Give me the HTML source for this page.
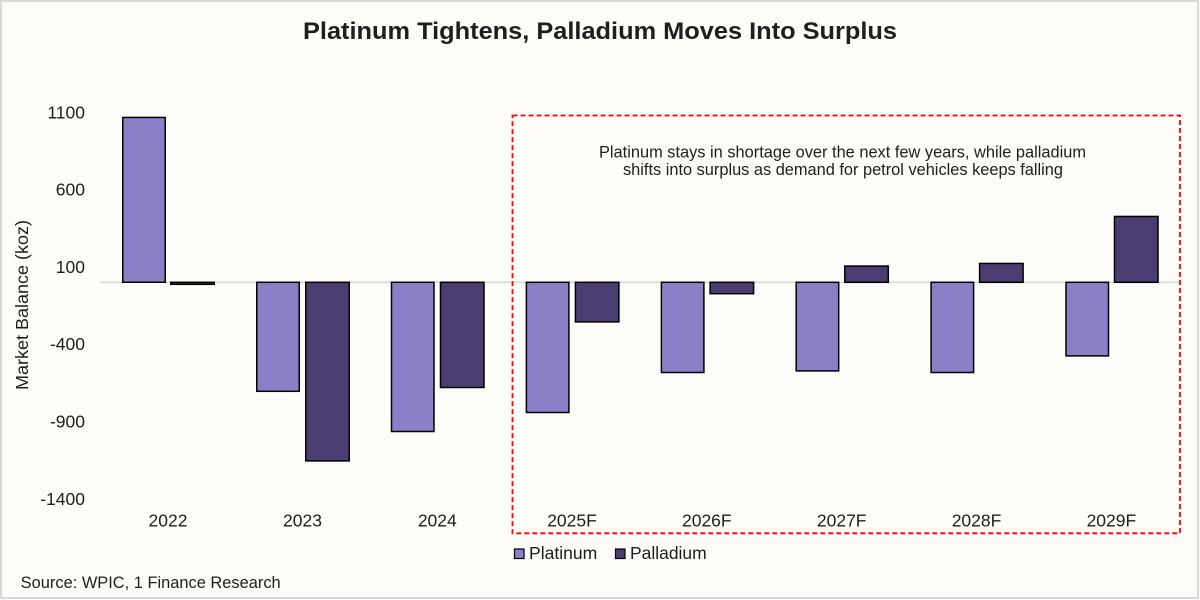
<!DOCTYPE html>
<html>
<head>
<meta charset="utf-8">
<style>
  html, body { margin: 0; padding: 0; background: #fdfcf8; }
  svg { display: block; }
  text { font-family: "Liberation Sans", Arial, sans-serif; fill: #1e1e1e; }
</style>
</head>
<body>
<svg width="1200" height="600" viewBox="0 0 1200 600" xmlns="http://www.w3.org/2000/svg">
  <rect x="0" y="0" width="1200" height="600" fill="#fdfcf8"/>
  <rect x="1" y="1" width="1197" height="597" fill="none" stroke="#d9d9d9" stroke-width="2"/>

  <!-- Title -->
  <text x="600" y="39" text-anchor="middle" font-size="24" font-weight="bold" textLength="594" lengthAdjust="spacingAndGlyphs">Platinum Tightens, Palladium Moves Into Surplus</text>

  <!-- Y axis labels -->
  <g font-size="17.5" text-anchor="end">
    <text x="85" y="118.3">1100</text>
    <text x="85" y="195.6">600</text>
    <text x="85" y="272.9">100</text>
    <text x="85" y="350.2">-400</text>
    <text x="85" y="427.5">-900</text>
    <text x="85" y="504.8">-1400</text>
  </g>

  <!-- Y axis title -->
  <text transform="translate(28,305) rotate(-90)" text-anchor="middle" font-size="17.5" textLength="170" lengthAdjust="spacingAndGlyphs">Market Balance (koz)</text>

  <!-- Zero line -->
  <line x1="100" y1="282.3" x2="1179" y2="282.3" stroke="#d9d9d9" stroke-width="1.6"/>

  <!-- Bars -->
  <g stroke="#000" stroke-width="1.5">
    <!-- 2022 -->
    <rect x="122.75" y="117.45" width="42.5" height="164.8" fill="#8b7fc7"/>
    <rect x="170.75" y="282.3" width="43.5" height="2" fill="#4b3d72"/>
    <!-- 2023 -->
    <rect x="256.75" y="282.3" width="42.5" height="109" fill="#8b7fc7"/>
    <rect x="305.75" y="282.3" width="43.5" height="178.6" fill="#4b3d72"/>
    <!-- 2024 -->
    <rect x="391.5" y="282.3" width="42.5" height="149.2" fill="#8b7fc7"/>
    <rect x="440.5" y="282.3" width="43.5" height="105.2" fill="#4b3d72"/>
    <!-- 2025F -->
    <rect x="526.4" y="282.3" width="42.5" height="130.2" fill="#8b7fc7"/>
    <rect x="575.4" y="282.3" width="43.5" height="39.6" fill="#4b3d72"/>
    <!-- 2026F -->
    <rect x="661.4" y="282.3" width="42.5" height="90.2" fill="#8b7fc7"/>
    <rect x="710.1" y="282.3" width="43.5" height="11.4" fill="#4b3d72"/>
    <!-- 2027F -->
    <rect x="796.2" y="282.3" width="42.5" height="88.6" fill="#8b7fc7"/>
    <rect x="844.8" y="266.05" width="43.5" height="16.25" fill="#4b3d72"/>
    <!-- 2028F -->
    <rect x="931.1" y="282.3" width="42.5" height="90.2" fill="#8b7fc7"/>
    <rect x="979.6" y="263.45" width="43.5" height="18.85" fill="#4b3d72"/>
    <!-- 2029F -->
    <rect x="1066" y="282.3" width="42.5" height="73.6" fill="#8b7fc7"/>
    <rect x="1114.5" y="216.45" width="43.5" height="65.85" fill="#4b3d72"/>
  </g>

  <!-- X labels -->
  <g font-size="17.5" text-anchor="middle">
    <text x="168" y="526.7">2022</text>
    <text x="302.5" y="526.7">2023</text>
    <text x="437.3" y="526.7">2024</text>
    <text x="572" y="526.7">2025F</text>
    <text x="706.8" y="526.7">2026F</text>
    <text x="841.7" y="526.7">2027F</text>
    <text x="976.5" y="526.7">2028F</text>
    <text x="1111.4" y="526.7">2029F</text>
  </g>

  <!-- Dashed annotation box -->
  <rect x="512.5" y="115.5" width="667.5" height="417.8" fill="none" stroke="#ff0000" stroke-width="1.8" stroke-dasharray="5,3"/>

  <!-- Annotation text -->
  <g font-size="16.4" text-anchor="middle">
    <text x="842.5" y="157.3" textLength="487" lengthAdjust="spacingAndGlyphs">Platinum stays in shortage over the next few years, while palladium</text>
    <text x="843" y="175" textLength="440" lengthAdjust="spacingAndGlyphs">shifts into surplus as demand for petrol vehicles keeps falling</text>
  </g>

  <!-- Legend -->
  <rect x="514.5" y="549" width="9.5" height="9.5" fill="#8b7fc7" stroke="#000" stroke-width="1.2"/>
  <text x="529" y="559" font-size="17.5" textLength="68.3" lengthAdjust="spacingAndGlyphs">Platinum</text>
  <rect x="615.5" y="549" width="9.5" height="9.5" fill="#4b3d72" stroke="#000" stroke-width="1.2"/>
  <text x="630" y="559" font-size="17.5" textLength="76.7" lengthAdjust="spacingAndGlyphs">Palladium</text>

  <!-- Source -->
  <text x="20.7" y="588" font-size="16.4" textLength="260" lengthAdjust="spacingAndGlyphs">Source: WPIC, 1 Finance Research</text>
</svg>
</body>
</html>
